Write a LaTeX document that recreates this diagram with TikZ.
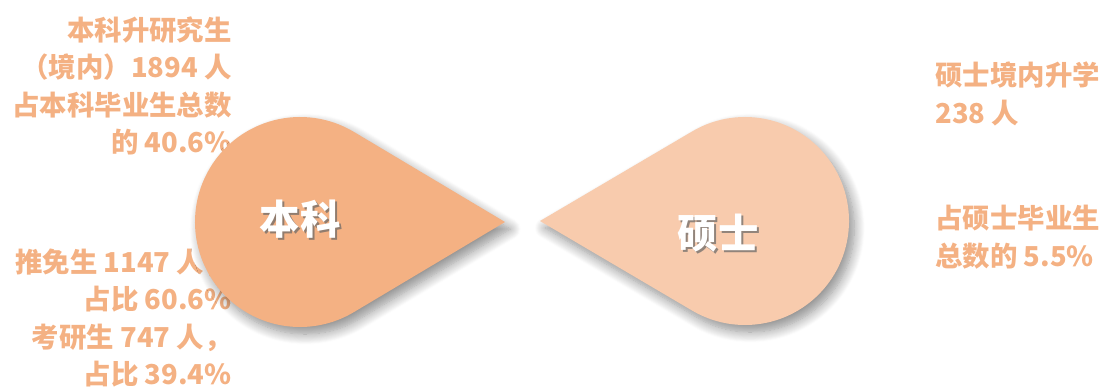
\documentclass[tikz,border=0pt]{standalone}
\usepackage{fontspec}
\newfontfamily\cjk{Noto Sans CJK SC}
\usetikzlibrary{shadows.blur}
\definecolor{bkorange}{HTML}{F4B183}
\definecolor{sspeach}{HTML}{F8CBAD}
\definecolor{statorange}{HTML}{F4B183}
\begin{document}
\begin{tikzpicture}[x=0.02cm, y=0.02cm,
  stat/.style={text=statorange, inner sep=0pt, font=\cjk\bfseries\fontsize{15.6pt}{21.4pt}\selectfont},
  drop/.style={blur shadow={shadow xshift=3pt, shadow yshift=-4pt, shadow blur radius=6pt, shadow blur steps=12, shadow opacity=45}},
  title/.style={text=white, inner sep=0pt, font=\cjk\bfseries\fontsize{23pt}{28pt}\selectfont},
  shade/.style={text=black!60, opacity=.7, inner sep=0pt, font=\cjk\bfseries\fontsize{23pt}{28pt}\selectfont}]
\useasboundingbox (0,0) rectangle (1104,387);
% left stats (drawn under the drop)
\node[stat, anchor=east, align=right] (bkup) at (232,301) {本科升研究生\\（境内）1894 人\\占本科毕业生总数\\的 40.6\%};
\node[stat, anchor=east, align=right] (bkdown) at (232,69) {推免生 1147 人，\\占比 60.6\%\\考研生 747 人，\\占比 39.4\%};
% right stats
\node[stat, anchor=west, align=left] (ssup) at (935,293) {硕士境内升学\\238 人};
\node[stat, anchor=west, align=left] (ssdown) at (935,150) {占硕士毕业生\\总数的 5.5\%};
% drops
\fill[bkorange, drop] (505,165) -- ($(300,165)+(59.2:105)$) arc[start angle=59.2, end angle=300.8, radius=105] -- cycle;
\fill[sspeach, drop] (540,166) -- ($(745,166)+(120.8:104)$) arc[start angle=120.8, end angle=-120.8, radius=104] -- cycle;
% titles
\node[shade] (bkshade) at (302,166) {本科};
\node[title] (bk) at (300,168) {本科};
\node[shade] (ssshade) at (720,152) {硕士};
\node[title] (ss) at (718,154) {硕士};
\end{tikzpicture}
\end{document}
